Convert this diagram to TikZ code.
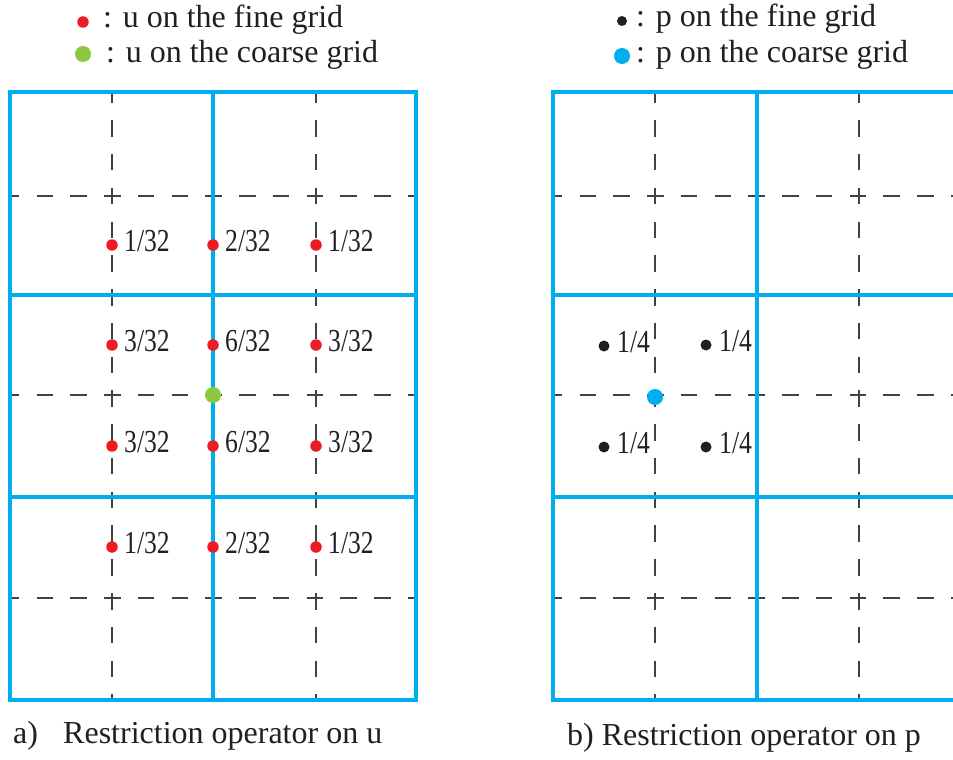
\documentclass[tikz,border=0pt]{standalone}
\usepackage{fontspec}
\setmainfont{Liberation Serif}
\usepackage{graphicx}
\definecolor{gridblue}{RGB}{0,174,239}
\definecolor{ured}{RGB}{237,28,36}
\definecolor{ugreen}{RGB}{141,198,63}
\definecolor{pblack}{RGB}{35,31,32}
\definecolor{dashgray}{RGB}{65,65,65}
\begin{document}
\begin{tikzpicture}[x=1pt,y=-1pt,
  coarse/.style={draw=gridblue,line width=4pt},
  fineline/.style={draw=dashgray,line width=1.4pt,dash pattern=on 16.5pt off 17.27pt},
  hfine/.style={fineline,dash phase=7.25pt},
  vfine/.style={fineline,dash phase=5.55pt},
  udot/.style={circle,fill=ured,inner sep=0pt,minimum size=11.5pt},
  cudot/.style={circle,fill=ugreen,inner sep=0pt,minimum size=16pt},
  pdot/.style={circle,fill=pblack,inner sep=0pt,minimum size=11pt},
  cpdot/.style={circle,fill=gridblue,inner sep=0pt,minimum size=16pt},
  txt/.style={anchor=base west,inner sep=0pt,text=pblack,font=\fontsize{32}{38}\selectfont},
  lab/.style={txt}]
\useasboundingbox (0,0) rectangle (953,760);
\clip (0,0) rectangle (953,760);
\fill[white] (0,0) rectangle (953,760);

% ---------- left grid (u) ----------
\foreach \y in {196,395,598} \draw[hfine] (10,\y) -- (416,\y);
\foreach \x in {112,316} \draw[vfine] (\x,92) -- (\x,700);
\draw[coarse] (10,92) rectangle (416,700);
\draw[coarse] (213,92) -- (213,700);
\foreach \y in {295,497} \draw[coarse] (10,\y) -- (416,\y);

% ---------- right grid (p) ----------
\foreach \y in {196,395,598} \draw[hfine] (553,\y) -- (961,\y);
\foreach \x in {655,859} \draw[vfine] (\x,92) -- (\x,700);
\draw[coarse] (553,92) rectangle (961,700);
\draw[coarse] (757,92) -- (757,700);
\foreach \y in {295,497} \draw[coarse] (553,\y) -- (961,\y);

% ---------- u weights ----------
\foreach \x/\y/\w [count=\i] in {112/245/1,213/245/2,316/245/1,
                                 112/345/3,213/345/6,316/345/3,
                                 112/446/3,213/446/6,316/446/3,
                                 112/547/1,213/547/2,316/547/1}{
  \node[udot] (u\i) at (\x,\y) {};
  \node[lab] (ul\i) at (\x+12,\y+6) {\scalebox{0.8}[1]{\w/32}};
}
\node[cudot] (uc) at (213,395) {};

% ---------- p weights ----------
\foreach \x/\y [count=\i] in {604/346,706/345,604/447,706/447}{
  \node[pdot] (p\i) at (\x,\y) {};
  \node[lab] (pl\i) at (\x+13,\y+6) {\scalebox{0.8}[1]{1/4}};
}
\node[cpdot] (pc) at (655,397) {};

% ---------- legends ----------
\node[udot] (legu1) at (83,22) {};
\node[txt] (legu1t) at (103,28) {: u on the fine grid};
\node[cudot] (legu2) at (83,54) {};
\node[txt] (legu2t) at (106,63) {: u on the coarse grid};

\node[pdot,minimum size=10pt] (legp1) at (622,21) {};
\node[txt] (legp1t) at (636,27) {: p on the fine grid};
\node[cpdot] (legp2) at (622,56) {};
\node[txt] (legp2t) at (636,63) {: p on the coarse grid};

% ---------- captions ----------
\node[txt] (capa) at (13,743) {a)};
\node[txt] (capat) at (63,743) {Restriction operator on u};
\node[txt] (capb) at (567,745) {b) Restriction operator on p};
\end{tikzpicture}
\end{document}
